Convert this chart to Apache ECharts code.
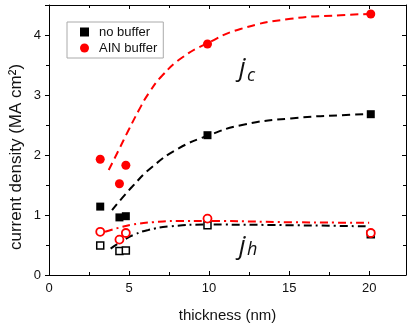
<!DOCTYPE html>
<html>
<head>
<meta charset="utf-8">
<script src="https://cdn.jsdelivr.net/npm/echarts@6/dist/echarts.min.js"></script>
<style>
html,body{margin:0;padding:0;background:#fff;}
#chart{width:407px;height:333px;}
</style>
</head>
<body>
<div id="chart"></div>
<script>
// Measured points
const thickness = [3.2, 4.4, 4.8, 9.9, 20.1];
const jcNoBuffer = [1.14, 0.96, 0.98, 2.33, 2.68];
const jcAlN = [1.93, 1.52, 1.83, 3.85, 4.35];
const jhNoBuffer = [0.49, 0.40, 0.41, 0.83, 0.68];
const jhAlN = [0.72, 0.59, 0.70, 0.94, 0.70];

// Fit curves
const fitJcAlNX = [3.73, 4.35, 4.98, 5.6, 6.23, 7.06, 8.3, 9.87, 11.96, 15.1, 18.2, 20.0];
const fitJcAlNY = [1.75, 2.08, 2.42, 2.74, 3.03, 3.32, 3.62, 3.86, 4.10, 4.27, 4.33, 4.35];
const fitJcNoX = [3.94, 5.19, 6.44, 8.1, 9.9, 12.06, 15.1, 18.8, 20.0];
const fitJcNoY = [1.08, 1.47, 1.80, 2.11, 2.32, 2.50, 2.61, 2.67, 2.68];
const fitJhAlNX = [3.5, 4.4, 5.2, 6.5, 8.0, 10.0, 15.0, 20.0];
const fitJhAlNY = [0.72, 0.79, 0.84, 0.88, 0.90, 0.90, 0.88, 0.87];
const fitJhNoX = [3.85, 4.6, 5.3, 6.2, 7.5, 10.0, 15.0, 20.0];
const fitJhNoY = [0.44, 0.57, 0.67, 0.75, 0.81, 0.84, 0.83, 0.81];

const xTicks = {min: 0, max: 22.3, interval: 5};
const yTicks = {min: 0, max: 4.5, interval: 1};

const zip = (xs, ys) => xs.map((x, i) => [x, ys[i]]);

const chart = echarts.init(document.getElementById('chart'), null, {renderer: 'canvas'});
const FONT = 'Liberation Sans';
const axisCommon = {
  axisLine: {show: true, onZero: false, lineStyle: {color: '#000', width: 1}},
  splitLine: {show: false},
};
chart.setOption({
  animation: false,
  backgroundColor: '#fff',
  grid: {left: 49, right: 1, top: 5, bottom: 58},
  legend: {
    left: 67, top: 22, orient: 'vertical',
    data: [{name: 'no buffer', icon: 'rect'}, {name: 'AIN buffer', icon: 'circle'}],
    itemWidth: 9, itemHeight: 9, itemGap: 2,
    padding: [3, 6, 3, 13],
    borderColor: '#aaa', borderWidth: 1,
    textStyle: {fontFamily: FONT, fontSize: 13, color: '#111', padding: [0, 0, 0, 5], lineHeight: 14}
  },
  xAxis: [
    Object.assign({}, axisCommon, {
      type: 'value', position: 'bottom', min: xTicks.min, max: xTicks.max, interval: xTicks.interval,
      axisTick: {show: true, inside: true, length: 4, lineStyle: {color: '#000'}},
      minorTick: {show: true, splitNumber: 2, length: 3, lineStyle: {color: '#000'}},
      axisLabel: {show: true, fontFamily: FONT, fontSize: 13, color: '#111', margin: 7, showMaxLabel: false},
      name: 'thickness (nm)', nameLocation: 'middle', nameGap: 33,
      nameTextStyle: {fontFamily: FONT, fontSize: 15, color: '#111'}
    }),
    Object.assign({}, axisCommon, {
      type: 'value', position: 'top', min: xTicks.min, max: xTicks.max, interval: xTicks.interval,
      axisTick: {show: true, inside: true, length: 4, lineStyle: {color: '#000'}},
      minorTick: {show: true, splitNumber: 2, length: 3, lineStyle: {color: '#000'}},
      axisLabel: {show: false}
    })
  ],
  yAxis: [
    Object.assign({}, axisCommon, {
      type: 'value', position: 'left', min: yTicks.min, max: yTicks.max, interval: yTicks.interval,
      axisTick: {show: true, inside: false, length: 4, lineStyle: {color: '#000'}},
      minorTick: {show: true, splitNumber: 2, length: 3, lineStyle: {color: '#000'}},
      axisLabel: {show: true, fontFamily: FONT, fontSize: 13, color: '#111', margin: 8, showMaxLabel: false}
    }),
    Object.assign({}, axisCommon, {
      type: 'value', position: 'right', min: yTicks.min, max: yTicks.max, interval: yTicks.interval,
      axisTick: {show: true, inside: true, length: 4, lineStyle: {color: '#000'}},
      minorTick: {show: true, splitNumber: 2, length: 3, lineStyle: {color: '#000'}},
      axisLabel: {show: false}
    })
  ],
  graphic: [
    {type: 'text', x: 16, y: 157, rotation: Math.PI / 2, style: {text: 'current density (MA cm²)', font: '17px "Liberation Sans"', fill: '#111', textAlign: 'center', textVerticalAlign: 'middle'}, z: 10},
    {type: 'text', x: 239, y: 56, style: {text: 'j', font: 'italic 26px "Open Sans"', fill: '#111'}, z: 10},
    {type: 'text', x: 247, y: 67, style: {text: 'c', font: 'italic 18px "Open Sans"', fill: '#111'}, z: 10},
    {type: 'text', x: 239, y: 234, style: {text: 'j', font: 'italic 26px "Open Sans"', fill: '#111'}, z: 10},
    {type: 'text', x: 247, y: 241, style: {text: 'h', font: 'italic 18px "Open Sans"', fill: '#111'}, z: 10}
  ],
  series: [
    {type: 'line', name: 'fit jc AlN', data: zip(fitJcAlNX, fitJcAlNY), smooth: true, showSymbol: false, silent: true,
      lineStyle: {color: '#ff0000', width: 2, type: [8, 5]}, z: 2},
    {type: 'line', name: 'fit jc no', data: zip(fitJcNoX, fitJcNoY), smooth: true, showSymbol: false, silent: true,
      lineStyle: {color: '#000', width: 2, type: [8, 5]}, z: 2},
    {type: 'line', name: 'fit jh AlN', data: zip(fitJhAlNX, fitJhAlNY), smooth: true, showSymbol: false, silent: true,
      lineStyle: {color: '#ff0000', width: 2, type: [8, 4, 2, 4]}, z: 2},
    {type: 'line', name: 'fit jh no', data: zip(fitJhNoX, fitJhNoY), smooth: true, showSymbol: false, silent: true,
      lineStyle: {color: '#000', width: 2, type: [8, 4, 2, 4]}, z: 2},
    {type: 'scatter', name: 'no buffer', data: zip(thickness, jcNoBuffer), symbol: 'rect', symbolSize: 8,
      itemStyle: {color: '#000', opacity: 1}, z: 5},
    {type: 'scatter', name: 'AIN buffer', data: zip(thickness, jcAlN), symbol: 'circle', symbolSize: 9,
      itemStyle: {color: '#ff0000', opacity: 1}, z: 5},
    {type: 'scatter', name: 'jh no buffer', data: zip(thickness, jhNoBuffer), symbol: 'rect', symbolSize: 7,
      itemStyle: {color: '#fff', borderColor: '#000', borderWidth: 1.5, opacity: 1}, z: 5},
    {type: 'scatter', name: 'jh AIN buffer', data: zip(thickness, jhAlN), symbol: 'circle', symbolSize: 8,
      itemStyle: {color: '#fff', borderColor: '#ff0000', borderWidth: 1.8, opacity: 1}, z: 5}
  ]
});
</script>
</body>
</html>
